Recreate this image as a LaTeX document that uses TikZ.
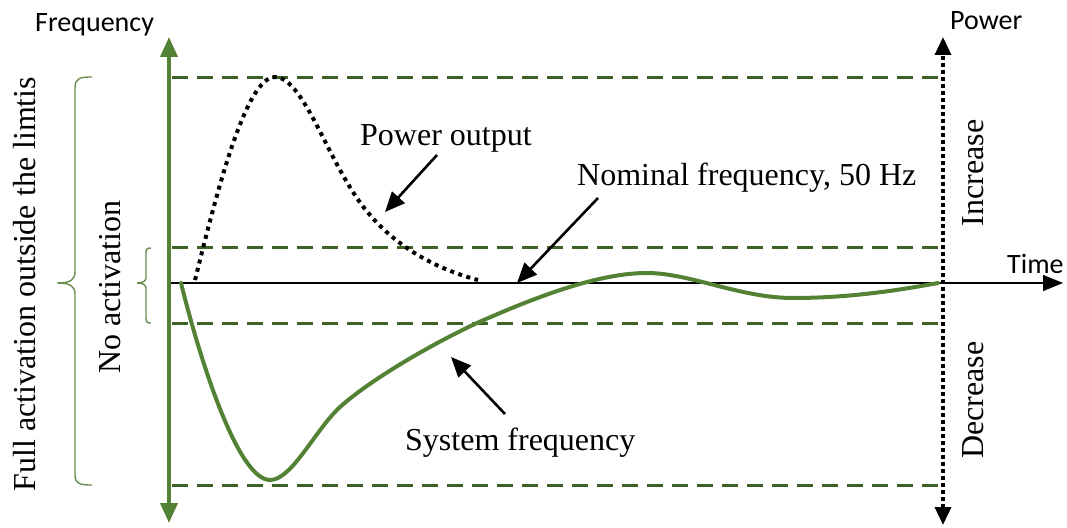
\documentclass[tikz,border=0pt]{standalone}
\usepackage{fontspec}
\setmainfont{Liberation Serif}
\newfontfamily\labelsans{Carlito}
\usetikzlibrary{arrows.meta}
\definecolor{axisgreen}{RGB}{84,130,53}
\definecolor{limitgreen}{RGB}{62,98,38}
\definecolor{bracegreen}{RGB}{105,140,80}

\begin{document}
\begin{tikzpicture}[x=1pt,y=-1pt,
  serif/.style={font=\fontsize{32}{36}\selectfont, inner sep=0pt},
  sanslabel/.style={font=\labelsans\fontsize{28}{32}\selectfont, inner sep=0pt},
  limit/.style={limitgreen, line width=3pt, dash pattern=on 16pt off 9pt},
  callout/.style={line width=2.6pt, -{Triangle[length=20pt,width=17pt]}},
  freqaxis/.style={axisgreen, line width=4pt,
    {Triangle[length=20pt,width=17pt]}-{Triangle[length=20pt,width=17pt]}},
  poweraxis/.style={black, line width=3.5pt, dash pattern=on 3.5pt off 3.5pt,
    {Triangle[length=18pt,width=16pt]}-{Triangle[length=18pt,width=16pt]}},
  timeaxis/.style={black, line width=1.2pt, -{Triangle[length=20pt,width=16pt]}},
  sysfreq/.style={axisgreen, line width=4pt, line cap=round},
  powerout/.style={black, line width=4pt, dash pattern=on 4pt off 4.5pt},
  bracket/.style={bracegreen, line width=1.4pt}
]
\useasboundingbox (0,0) rectangle (1067,527);

% axis end points
\coordinate (f-bot) at (169,523);
\coordinate (f-top) at (169,37);
\coordinate (p-bot) at (943,525);
\coordinate (p-top) at (943,37);
\coordinate (t-start) at (169,283);
\coordinate (t-end) at (1063,283);

% frequency limits
\foreach \yy/\nm in {77/lim-a,247/lim-b,323/lim-c,485/lim-d}{
  \coordinate (\nm-w) at (172,\yy);
  \coordinate (\nm-e) at (940,\yy);
  \draw[limit] (\nm-w) -- (\nm-e);
}

% time axis
\draw[timeaxis] (t-start) -- (t-end);

% power output response
\draw[powerout] (195,280) .. controls (215,200) and (245,77) .. (275,77)
  .. controls (305,77) and (330,170) .. (370,215)
  .. controls (400,250) and (440,270) .. (478,280);

% system frequency response
\draw[sysfreq] (181,283) .. controls (200,360) and (238,480) .. (270,480)
  .. controls (292,480) and (315,430) .. (340,407)
  .. controls (370,380) and (430,345) .. (477,323)
  .. controls (540,295) and (600,273) .. (647,273)
  .. controls (690,273) and (740,298) .. (793,298)
  .. controls (850,298) and (900,290) .. (938,283);

% axes
\draw[freqaxis] (f-bot) -- (f-top);
\draw[poweraxis] (p-bot) -- (p-top);

% brackets for the activation bands
\draw[bracket] (92,77) .. controls (80,77) and (75,78) .. (75,88) -- (75,272)
  .. controls (75,280) and (70,283) .. (57,283)
  .. controls (70,283) and (75,286) .. (75,294) -- (75,475)
  .. controls (75,484) and (80,485) .. (92,485);
\draw[bracket] (151,248) .. controls (147,248) and (146,249) .. (146,253) -- (146,278)
  .. controls (146,281) and (143,283) .. (137,283)
  .. controls (143,283) and (146,285) .. (146,288) -- (146,318)
  .. controls (146,322) and (147,323) .. (151,323);

% axis titles
\node[sanslabel, anchor=base west] (freq-label) at (35,32) {Frequency};
\node[sanslabel, anchor=base west] (power-label) at (950,30) {Power};
\node[sanslabel, anchor=base west] (time-label) at (1007,273) {Time};

% band labels
\node[serif, rotate=90, anchor=base] (full-act) at (35,284) {Full activation outside the limtis};
\node[serif, rotate=90, anchor=base] (no-act) at (120,287) {No activation};
\node[serif, rotate=90, anchor=base] (increase) at (983,173) {Increase};
\node[serif, rotate=90, anchor=base] (decrease) at (983,400) {Decrease};

% curve labels
\node[serif, anchor=base west] (po-label) at (360,145) {Power output};
\node[serif, anchor=base west] (nom-label) at (577,185) {Nominal frequency, 50 Hz};
\node[serif, anchor=base west] (sys-label) at (405,450) {System frequency};

% callout arrows
\coordinate (po-tail) at (437,155);
\coordinate (po-head) at (385,212);
\coordinate (nom-tail) at (598,198);
\coordinate (nom-head) at (517,283);
\coordinate (sys-tail) at (505,414);
\coordinate (sys-head) at (451,357);
\draw[callout] (po-tail) -- (po-head);
\draw[callout] (nom-tail) -- (nom-head);
\draw[callout] (sys-tail) -- (sys-head);
\end{tikzpicture}
\end{document}
